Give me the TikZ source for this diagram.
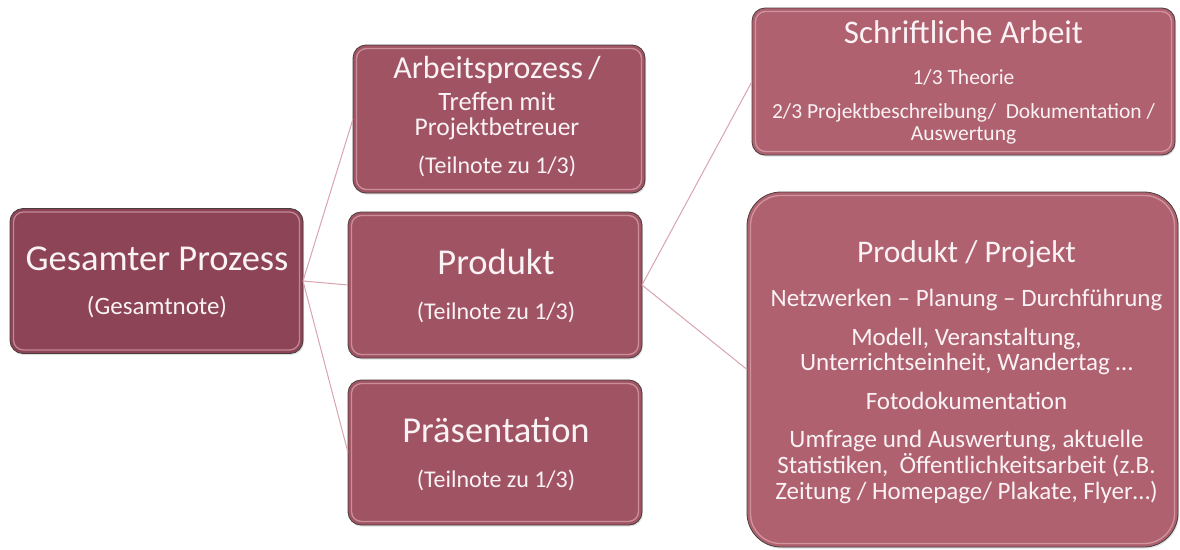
\documentclass[tikz,border=0pt]{standalone}
\usepackage{fontspec}
\setmainfont{Carlito}
\usetikzlibrary{shadows}
\definecolor{boxdark}{HTML}{8C4456}
\definecolor{boxmid}{HTML}{A05463}
\definecolor{boxlight}{HTML}{AF616F}
\definecolor{linkcol}{HTML}{D9A3AE}
\definecolor{edgecol}{HTML}{4A3C3E}
\definecolor{txtcol}{HTML}{FAF2F4}
\definecolor{bevelcol}{HTML}{EDBFC8}
\tikzset{
  box/.style={draw=edgecol, line width=0.8pt, rounded corners=13pt, inner sep=0pt, outer sep=0pt,
    drop shadow={opacity=0.25, shadow xshift=1pt, shadow yshift=-1.5pt},
    path picture={\draw[bevelcol, line width=1.3pt, rounded corners=10pt, opacity=0.55]
      ([xshift=3.5pt,yshift=-3.5pt]path picture bounding box.north west) rectangle
      ([xshift=-3.5pt,yshift=3.5pt]path picture bounding box.south east);}},
  bigbox/.style={box, rounded corners=34pt,
    path picture={\draw[bevelcol, line width=1.3pt, rounded corners=30pt, opacity=0.55]
      ([xshift=3.5pt,yshift=-3.5pt]path picture bounding box.north west) rectangle
      ([xshift=-3.5pt,yshift=3.5pt]path picture bounding box.south east);}},
  link/.style={draw=linkcol, line width=1pt},
  txt/.style={text=txtcol, anchor=base, inner sep=0pt},
  ttl/.style={txt, font=\fontsize{36.5}{42}\selectfont},
  sub/.style={txt, font=\fontsize{24}{28}\selectfont},
  body/.style={txt, font=\fontsize{25}{29}\selectfont},
  small/.style={txt, font=\fontsize{21.5}{25}\selectfont},
}
\begin{document}
\begin{tikzpicture}[x=1pt, y=-1pt]
\useasboundingbox (0,0) rectangle (1180,549);
% boxes
\node[box, fill=boxdark, minimum width=293pt, minimum height=145pt] (g) at (156.5,281) {};
\node[box, fill=boxmid, minimum width=292pt, minimum height=148pt] (a) at (499,119) {};
\node[box, fill=boxmid, minimum width=294pt, minimum height=146pt] (p) at (495,285) {};
\node[box, fill=boxmid, minimum width=294pt, minimum height=145pt] (pr) at (495,452.5) {};
\node[box, fill=boxlight, minimum width=423pt, minimum height=147pt] (s) at (963.5,81.5) {};
\node[bigbox, fill=boxlight, minimum width=431pt, minimum height=355pt] (pp) at (962.5,369.5) {};
% connectors
\draw[link] (g.east) -- (a.west);
\draw[link] (g.east) -- (p.west);
\draw[link] (g.east) -- (pr.west);
\draw[link] (p.east) -- (s.west);
\draw[link] (p.east) -- (pp.west);
% texts: Gesamter Prozess
\node[ttl] (g1) at (157,270) {Gesamter Prozess};
\node[txt, font=\fontsize{25}{29}\selectfont] (g2) at (157,314) {(Gesamtnote)};
% Arbeitsprozess
\node[txt, font=\fontsize{32}{36}\selectfont] (a1) at (497,78.5) {Arbeitsprozess\,/};
\node[txt, font=\fontsize{26.5}{30}\selectfont] (a2) at (497,110) {Treffen mit};
\node[txt, font=\fontsize{25.5}{29}\selectfont] (a3) at (497,135) {Projektbetreuer};
\node[txt, font=\fontsize{24}{28}\selectfont] (a4) at (497,173.5) {(Teilnote zu 1/3)};
% Produkt
\node[ttl] (p1) at (496,274) {Produkt};
\node[sub] (p2) at (496,319) {(Teilnote zu 1/3)};
% Praesentation
\node[ttl] (pr1) at (496,442) {Präsentation};
\node[sub] (pr2) at (496,487) {(Teilnote zu 1/3)};
% Schriftliche Arbeit
\node[txt, font=\fontsize{33}{38}\selectfont] (s1) at (963.5,43.5) {Schriftliche Arbeit};
\node[small] (s2) at (963.5,84) {1/3 Theorie};
\node[small] (s3) at (963.5,118.5) {2/3 Projektbeschreibung/\ \ Dokumentation /};
\node[small] (s4) at (963.5,140) {Auswertung};
% Produkt / Projekt
\node[txt, font=\fontsize{31.5}{38}\selectfont] (pp1) at (966.5,262) {Produkt / Projekt};
\node[body] (pp2) at (966.5,306) {Netzwerken – Planung – Durchführung};
\node[body] (pp3) at (966.5,345) {Modell, Veranstaltung,};
\node[body] (pp4) at (966.5,370.5) {Unterrichtseinheit, Wandertag …};
\node[body] (pp5) at (966.5,409) {Fotodokumentation};
\node[body] (pp6) at (966.5,447) {Umfrage und Auswertung, aktuelle};
\node[body] (pp7) at (966.5,473) {Statistiken,\ \ Öffentlichkeitsarbeit (z.B.};
\node[body] (pp8) at (966.5,499) {Zeitung / Homepage/ Plakate, Flyer…)};
\end{tikzpicture}
\end{document}
